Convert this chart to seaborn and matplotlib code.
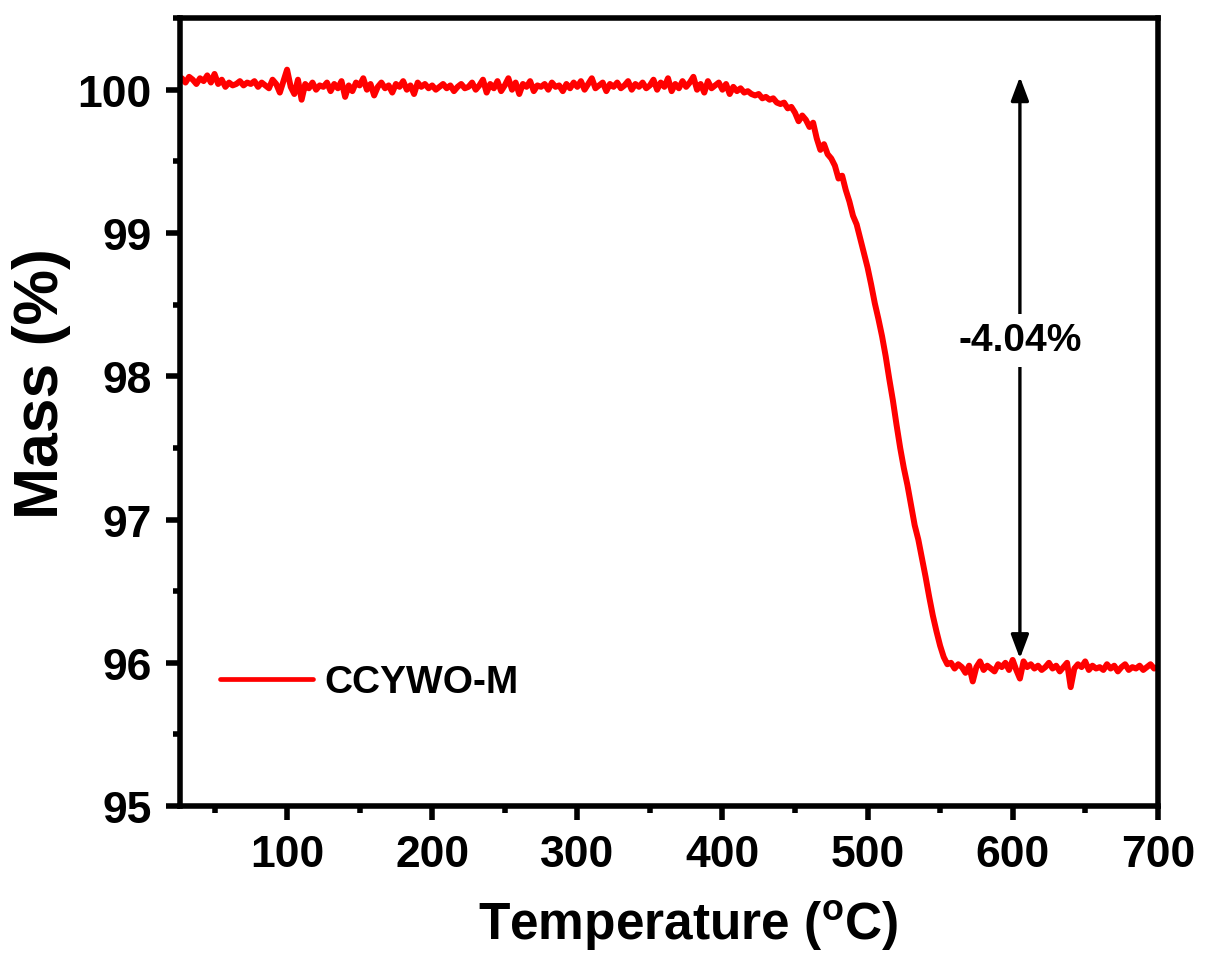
import numpy as np
import matplotlib
matplotlib.use("Agg")
import matplotlib.pyplot as plt
import seaborn as sns
from matplotlib.ticker import MultipleLocator

# ---- data ----
temperature_start = 25.0
temperature_step = 2.5

mass_flat = [
    100.06, 100.08, 100.05, 100.09, 100.07, 100.04, 100.08, 100.06, 100.10, 100.05,
    100.11, 100.04, 100.07, 100.02, 100.05, 100.03, 100.04, 100.06, 100.03, 100.05,
    100.04, 100.06, 100.02, 100.05, 100.03, 100.01, 100.07, 100.04, 99.98, 100.06,
    100.14, 100.02, 99.97, 100.07, 99.93, 100.04, 100.01, 100.05, 100.00, 100.03,
    100.02, 100.05, 99.99, 100.04, 100.01, 100.06, 99.95, 100.03, 99.99, 100.05,
    100.03, 100.08, 100.00, 100.04, 99.96, 100.02, 100.05, 100.01, 100.03, 99.98,
    100.04, 100.02, 100.06, 100.00, 100.03, 99.97, 100.05, 100.02, 100.04, 100.01,
    100.03, 100.00, 100.02, 100.04, 100.01, 100.03, 99.99, 100.02, 100.04, 100.01,
    100.02, 100.05, 100.00, 100.03, 100.07, 99.98, 100.04, 100.01, 100.06, 99.99,
    100.03, 100.08, 100.00, 100.05, 99.97, 100.04, 100.02, 100.06, 99.99, 100.03,
    100.02, 100.04, 100.00, 100.05, 100.02, 100.03, 99.99, 100.04, 100.01, 100.05,
    100.02, 100.06, 100.00, 100.04, 100.08, 100.01, 100.03, 100.05, 99.99, 100.04,
    100.02, 100.05, 100.01, 100.03, 100.06, 100.00, 100.04, 100.02, 100.05, 100.01,
    100.03, 100.07, 100.00, 100.05, 100.02, 100.08, 99.99, 100.04, 100.01, 100.06,
    100.02, 100.05, 100.09, 100.00, 100.04, 99.98, 100.06, 100.01, 100.03, 100.05,
    100.00, 100.04, 99.97, 100.02,
]
mass_drop = [
    99.99, 100.01, 99.98, 99.99, 99.97, 99.96, 99.97, 99.94, 99.95, 99.93,
    99.94, 99.91, 99.90, 99.91, 99.87, 99.88, 99.84, 99.78, 99.82, 99.79,
    99.74, 99.77, 99.66, 99.58, 99.62, 99.55, 99.52, 99.47, 99.38, 99.40,
    99.30, 99.22, 99.12, 99.06, 98.96, 98.86, 98.76, 98.64, 98.51, 98.40,
    98.28, 98.14, 97.98, 97.83, 97.66, 97.50, 97.36, 97.24, 97.10, 96.96,
    96.86, 96.73, 96.60, 96.46, 96.33, 96.22, 96.12, 96.04, 95.99, 96.00,
]
mass_plateau = [
    95.96, 95.99, 95.97, 95.93, 95.98, 95.87, 95.97, 96.01, 95.95, 95.98,
    95.96, 95.94, 95.99, 95.97, 96.00, 95.95, 96.02, 95.95, 95.89, 96.01,
    95.97, 95.99, 95.96, 95.98, 95.95, 95.97, 96.00, 95.96, 95.98, 95.94,
    95.97, 96.00, 95.83, 95.96, 95.99, 95.97, 96.01, 95.95, 95.98, 95.96,
    95.97, 95.95, 95.99, 95.96, 95.98, 95.94, 95.97, 95.99, 95.95, 95.97,
    95.96, 95.98, 95.95, 95.97, 95.99, 95.96, 95.97,
]
mass = np.array(mass_flat + mass_drop + mass_plateau)
temperature = temperature_start + temperature_step * np.arange(len(mass))

series_label = "CCYWO-M"
loss_label = "-4.04%"
loss_top = 100.09
loss_bottom = 96.03
loss_x = 605
loss_text_y = 98.25

# ---- style ----
sns.set_theme(style="ticks")
plt.rcParams["font.family"] = ["Liberation Sans", "DejaVu Sans"]
plt.rcParams["font.weight"] = "bold"
plt.rcParams["text.color"] = "black"
plt.rcParams["axes.labelcolor"] = "black"
plt.rcParams["xtick.color"] = "black"
plt.rcParams["ytick.color"] = "black"
plt.rcParams["mathtext.fontset"] = "custom"
plt.rcParams["mathtext.rm"] = "Liberation Sans:bold"
plt.rcParams["mathtext.bf"] = "Liberation Sans:bold"
plt.rcParams["mathtext.it"] = "Liberation Sans:bold"

fig = plt.figure(figsize=(12.06, 9.54), dpi=100)
ax = fig.add_axes([0.149, 0.154, 0.811, 0.826])

sns.lineplot(x=temperature, y=mass, ax=ax, color="#ff0000", linewidth=4.3,
             label=series_label, sort=False)

ax.set_xlim(26, 700)
ax.set_ylim(95, 100.5)
ax.xaxis.set_major_locator(MultipleLocator(100))
ax.xaxis.set_minor_locator(MultipleLocator(50))
ax.yaxis.set_major_locator(MultipleLocator(1))
ax.yaxis.set_minor_locator(MultipleLocator(0.5))

for sp in ax.spines.values():
    sp.set_linewidth(4)
    sp.set_color("black")

ax.tick_params(which="major", direction="out", length=10, width=4,
               labelsize=32, pad=10, color="black", labelcolor="black")
ax.tick_params(which="minor", direction="out", length=5, width=4, color="black")
for lab in ax.get_xticklabels() + ax.get_yticklabels():
    lab.set_fontweight("bold")

ax.set_xlabel(r"Temperature ($^{\mathbf{o}}$C)", fontsize=37, fontweight="bold",
              color="black")
ax.set_ylabel("Mass (%)", fontsize=45, fontweight="bold", color="black")
ax.xaxis.set_label_coords(0.520, -0.150)
ax.xaxis.label.set_va("center")
ax.yaxis.set_label_coords(-0.141, 0.538)
ax.yaxis.label.set_va("center")

# annotation: mass loss arrow
ax.annotate("", xy=(loss_x, loss_top), xytext=(loss_x, loss_bottom),
            arrowprops=dict(arrowstyle="<|-|>,head_length=1.2,head_width=0.45",
                            color="black", lw=2.4, shrinkA=0, shrinkB=0))
ax.text(loss_x, loss_text_y, loss_label, ha="center", va="center", fontsize=28,
        fontweight="bold", color="black",
        bbox=dict(facecolor="white", edgecolor="none", pad=6))

leg = ax.legend(loc="center left", bbox_to_anchor=(0.041, 0.157), frameon=False,
                fontsize=28, handlelength=2.4, handletextpad=0.3, borderpad=0,
                borderaxespad=0)
for t in leg.get_texts():
    t.set_fontweight("bold")
    t.set_color("black")
for h in leg.get_lines():
    h.set_linewidth(3.4)
    h.set_solid_capstyle("round")

fig.savefig("out.png", dpi=100)
